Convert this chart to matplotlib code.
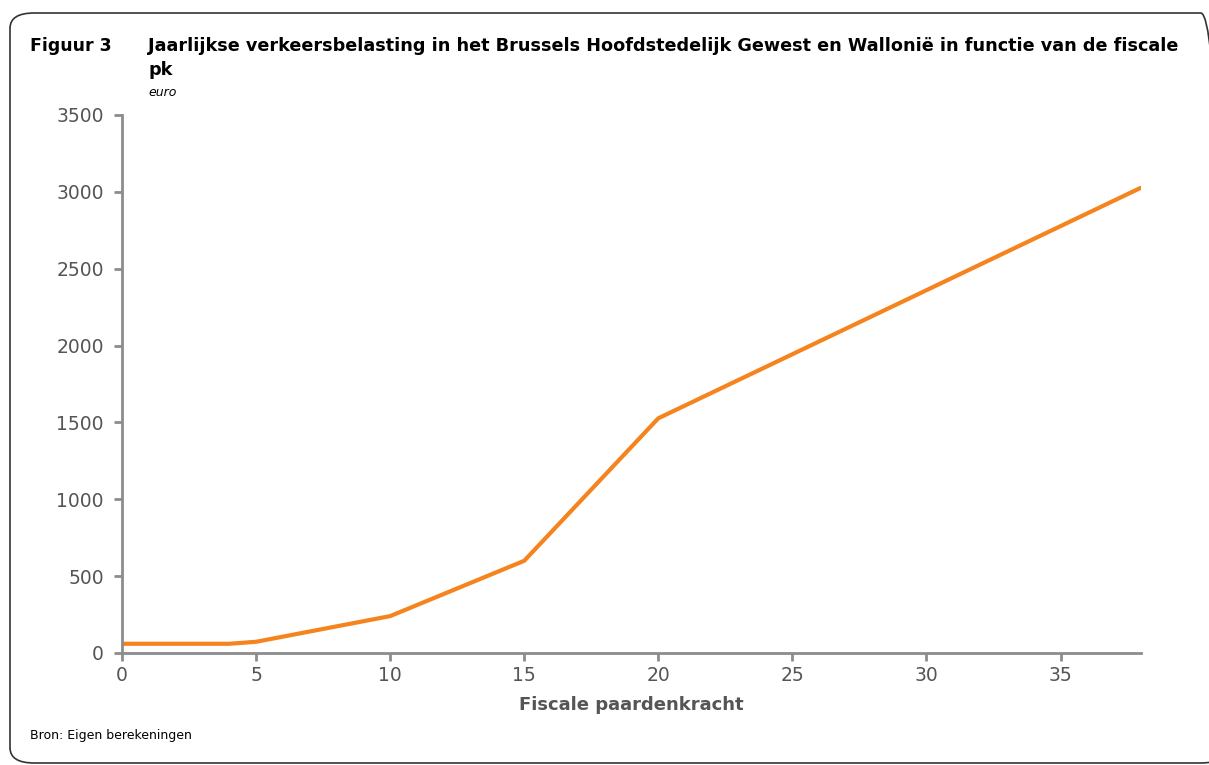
import numpy as np
import matplotlib.pyplot as plt
from matplotlib.patches import FancyBboxPatch

# fiscale pk -> jaarlijkse verkeersbelasting (euro)
pk = [0, 4, 5, 10, 15, 20, 38]
belasting = [60, 60, 73, 240, 600, 1527, 3027]

xticks = [0, 5, 10, 15, 20, 25, 30, 35]
yticks = [0, 500, 1000, 1500, 2000, 2500, 3000, 3500]

plt.rcParams['font.family'] = ['DejaVu Sans']

fig = plt.figure(figsize=(12.09, 7.65), dpi=100)
W, H = 1209, 765

# rounded frame
frame = FancyBboxPatch((10 / W, 2 / H), 1215 / W, 750 / H,
                       boxstyle="round,pad=0,rounding_size=0.02",
                       transform=fig.transFigure, fill=False,
                       edgecolor='#333333', linewidth=1.2, clip_on=False)
fig.patches.append(frame)

ax = fig.add_axes([122 / W, (H - 653) / H, (1141 - 122) / W, (653 - 115) / H])
ax.plot(pk, belasting, color='#f5841f', linewidth=3, solid_capstyle='round')

ax.set_xlim(0, 38)
ax.set_ylim(0, 3500)
ax.set_xticks(xticks)
ax.set_yticks(yticks)
for s in ['top', 'right']:
    ax.spines[s].set_visible(False)
for s in ['left', 'bottom']:
    ax.spines[s].set_color('#8c8c8c')
    ax.spines[s].set_linewidth(2)
ax.tick_params(colors='#8c8c8c', labelcolor='#555555', labelsize=13.5,
               length=6, width=2, direction='out')
ax.tick_params(axis='y', pad=7)
ax.set_xlabel('Fiscale paardenkracht', fontsize=13, fontweight='bold',
              color='#555555', labelpad=8)

fig.text(30 / W, 1 - 46 / H, 'Figuur 3', fontsize=12.5, fontweight='bold',
         va='center', ha='left')
fig.text(148 / W, 1 - 46 / H,
         'Jaarlijkse verkeersbelasting in het Brussels Hoofdstedelijk Gewest en Wallonië in functie van de fiscale',
         fontsize=12.7, fontweight='bold', va='center', ha='left')
fig.text(148 / W, 1 - 70 / H, 'pk', fontsize=12.7, fontweight='bold',
         va='center', ha='left')
fig.text(148 / W, 1 - 93 / H, 'euro', fontsize=9, style='italic',
         va='center', ha='left')
fig.text(30 / W, 1 - 736 / H, 'Bron: Eigen berekeningen', fontsize=9,
         va='center', ha='left')

fig.savefig('out.png', dpi=100)
